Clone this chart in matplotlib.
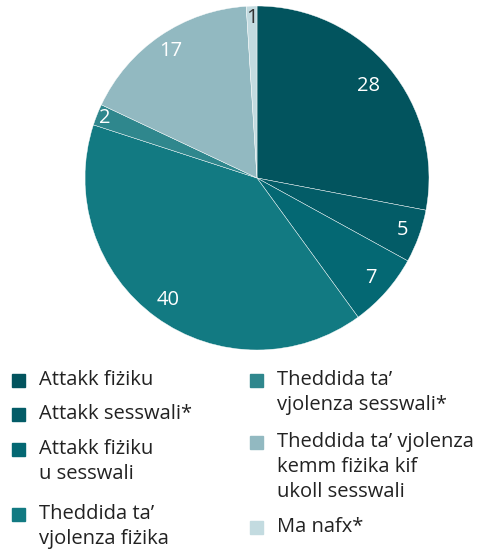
import matplotlib.pyplot as plt
from matplotlib.patches import Rectangle
import numpy as np

plt.rcParams['font.family'] = ['Open Sans', 'DejaVu Sans']

# Data from the chart
labels = ["Attakk fiżiku", "Attakk sesswali*", "Attakk fiżiku\nu sesswali",
          "Theddida ta’\nvjolenza fiżika", "Theddida ta’\nvjolenza sesswali*",
          "Theddida ta’ vjolenza\nkemm fiżika kif\nukoll sesswali", "Ma nafx*"]
values = [28, 5, 7, 40, 2, 17, 1]
colors = ["#02545e", "#035c67", "#046873", "#127a82", "#2f878d", "#92b9c1", "#c3dbe0"]
text_colors = ["white", "white", "white", "white", "white", "white", "#333333"]
label_dist = [0.84, 0.90, 0.88, 0.88, 0.95, 0.89, 0.93]

W, H = 481, 551
fig = plt.figure(figsize=(W / 100, H / 100), dpi=100)

# pie: center (257,178), radius 172 px
cx, cy, r = 257, 178, 172
ax = fig.add_axes([(cx - r) / W, 1 - (cy + r) / H, 2 * r / W, 2 * r / H])
wedges, _ = ax.pie(values, colors=colors, startangle=90, counterclock=False,
                   wedgeprops=dict(linewidth=0.3, edgecolor="white"))
ax.set_xlim(-1, 1)
ax.set_ylim(-1, 1)
ax.set_aspect("equal")

for w, v, tc, d in zip(wedges, values, text_colors, label_dist):
    ang = np.deg2rad((w.theta1 + w.theta2) / 2)
    ax.text(d * np.cos(ang), d * np.sin(ang), str(v), ha="center", va="center",
            color=tc, fontsize=14.5)

# legend drawn by hand, two columns
left_idx, right_idx = [0, 1, 2, 3], [4, 5, 6]
left_y = [380, 414, 449, 514]
right_y = [380, 442, 527]
line_h = 25


def legend_item(i, x, y):
    fig.add_artist(Rectangle((x / W, 1 - (y + 6.5) / H), 13 / W, 13 / H,
                             transform=fig.transFigure, color=colors[i]))
    for k, line in enumerate(labels[i].split("\n")):
        fig.text((x + 27) / W, 1 - (y + k * line_h) / H, line, ha="left",
                 va="center", fontsize=14.5, color="#222222")


for i, y in zip(left_idx, left_y):
    legend_item(i, 12, y)
for i, y in zip(right_idx, right_y):
    legend_item(i, 250, y)

fig.savefig("out.png", dpi=100)
